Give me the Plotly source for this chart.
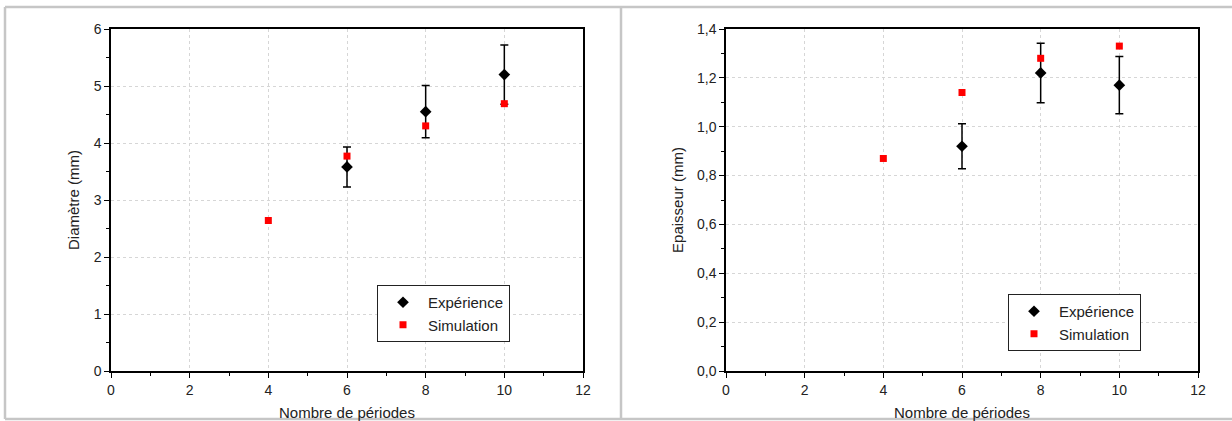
import plotly.graph_objects as go

# Number of periods
periodes_exp = [6, 8, 10]
periodes_sim = [4, 6, 8, 10]

# Diameter (mm)
diam_exp = [3.58, 4.55, 5.20]
diam_exp_err = [0.35, 0.46, 0.52]
diam_sim = [2.64, 3.77, 4.30, 4.69]

# Thickness (mm)
ep_exp = [0.92, 1.22, 1.17]
ep_exp_err = [0.092, 0.122, 0.117]
ep_sim = [0.87, 1.14, 1.28, 1.33]

W, H = 1232, 421
FONT = "Liberation Sans, Arial, sans-serif"


def px_x(p):
    return p / W


def px_y(p):
    return 1 - p / H


fig = go.Figure()

# Left panel: diameter
fig.add_trace(go.Scatter(
    x=periodes_exp, y=diam_exp, mode="markers", name="Expérience",
    marker=dict(symbol="diamond", size=9, color="black"),
    error_y=dict(type="data", array=diam_exp_err, color="black", thickness=1.5, width=4),
    xaxis="x", yaxis="y", legend="legend",
))
fig.add_trace(go.Scatter(
    x=periodes_sim, y=diam_sim, mode="markers", name="Simulation",
    marker=dict(symbol="square", size=7, color="#ff0000"),
    xaxis="x", yaxis="y", legend="legend",
))

# Right panel: thickness
fig.add_trace(go.Scatter(
    x=periodes_exp, y=ep_exp, mode="markers", name="Expérience",
    marker=dict(symbol="diamond", size=9, color="black"),
    error_y=dict(type="data", array=ep_exp_err, color="black", thickness=1.5, width=4),
    xaxis="x2", yaxis="y2", legend="legend2",
))
fig.add_trace(go.Scatter(
    x=periodes_sim, y=ep_sim, mode="markers", name="Simulation",
    marker=dict(symbol="square", size=7, color="#ff0000"),
    xaxis="x2", yaxis="y2", legend="legend2",
))

axis_common = dict(
    showline=True, linecolor="black", linewidth=1.5, mirror=True,
    ticks="outside", ticklen=5, tickwidth=1, tickcolor="black",
    showgrid=True, gridcolor="#d6d6d6", griddash="3px,3px", gridwidth=1,
    zeroline=False, automargin=False,
    tickfont=dict(family=FONT, size=14, color="#222"),
    title_font=dict(family=FONT, size=15, color="#222"),
    minor=dict(ticks="outside", ticklen=3, tickcolor="black", showgrid=False),
)

ydom = [px_y(371), px_y(29)]

legend_common = dict(
    xanchor="left", yanchor="top",
    bgcolor="white", bordercolor="#222", borderwidth=1,
    font=dict(family=FONT, size=15, color="#222"),
    itemsizing="trace", tracegroupgap=0, itemwidth=40,
)

fig.update_layout(
    width=W, height=H,
    margin=dict(l=0, r=0, t=0, b=0, autoexpand=False),
    paper_bgcolor="white", plot_bgcolor="white",
    separators=", ",
    showlegend=True,
    font=dict(family=FONT, color="#222"),
    xaxis=dict(axis_common, domain=[px_x(111), px_x(583)], range=[0, 12], dtick=2,
               minor_dtick=1, anchor="y",
               title=dict(text="Nombre de périodes", standoff=16)),
    yaxis=dict(axis_common, domain=ydom, range=[0, 6], dtick=1, minor_dtick=0.5,
               anchor="x", title=dict(text="Diamètre (mm)", standoff=10)),
    xaxis2=dict(axis_common, domain=[px_x(726), px_x(1198)], range=[0, 12], dtick=2,
                minor_dtick=1, anchor="y2",
                title=dict(text="Nombre de périodes", standoff=16)),
    yaxis2=dict(axis_common, domain=ydom, range=[0, 1.4], dtick=0.2, minor_dtick=0.1,
                tickformat=".1f", anchor="x2",
                title=dict(text="Epaisseur (mm)", standoff=10)),
    legend=dict(legend_common, x=px_x(377), y=px_y(285)),
    legend2=dict(legend_common, x=px_x(1008), y=px_y(294)),
)

# Panel frames
frame = dict(type="line", xref="paper", yref="paper",
             line=dict(color="#c6c6c6", width=2.5), layer="above")
fig.add_shape(frame, x0=px_x(5), x1=1, y0=px_y(7), y1=px_y(7))
fig.add_shape(frame, x0=px_x(5), x1=1, y0=px_y(419), y1=px_y(419))
fig.add_shape(frame, x0=px_x(5), x1=px_x(5), y0=px_y(7), y1=px_y(419))
fig.add_shape(frame, x0=px_x(621), x1=px_x(621), y0=px_y(7), y1=px_y(419))

fig.write_html("out.html")
